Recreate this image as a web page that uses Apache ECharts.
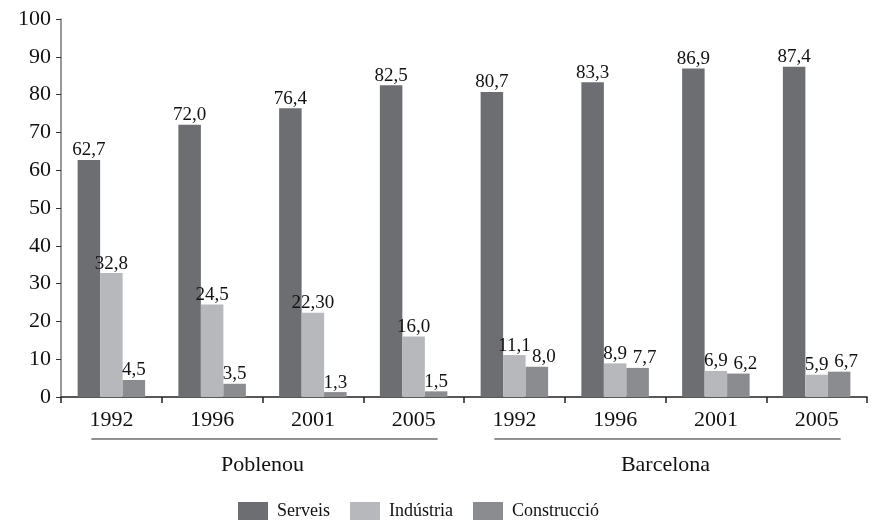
<!DOCTYPE html>
<html><head><meta charset="utf-8">
<script src="https://cdn.jsdelivr.net/npm/echarts@6/dist/echarts.min.js"></script>
<style>html,body{margin:0;padding:0;background:#fff}#c{width:871px;height:522px}</style>
</head><body><div id="c"></div>
<script>
const years = ['1992','1996','2001','2005','1992','1996','2001','2005'];
const groups = ['Poblenou','Barcelona'];
const seriesNames = ['Serveis','Indústria','Construcció'];
const serveis = [62.7,72.0,76.4,82.5,80.7,83.3,86.9,87.4];
const industria = [32.8,24.5,22.3,16.0,11.1,8.9,6.9,5.9];
const construccio = [4.5,3.5,1.3,1.5,8.0,7.7,6.2,6.7];
const serveisLbl = ['62,7','72,0','76,4','82,5','80,7','83,3','86,9','87,4'];
const industriaLbl = ['32,8','24,5','22,30','16,0','11,1','8,9','6,9','5,9'];
const construccioLbl = ['4,5','3,5','1,3','1,5','8,0','7,7','6,2','6,7'];
const yTicks = [0,10,20,30,40,50,60,70,80,90,100];

const FONT = '"Liberation Serif","DejaVu Serif",serif';
const colors = ['#6d6e72','#b7b8bb','#8b8c90'];
const chart = echarts.init(document.getElementById('c'));
function mk(name, vals, lbls, color, shiftBarcelona){
  return {
    name, type:'bar', barWidth: 22.5, barGap: '0%',
    data: vals.map((v,i)=> (shiftBarcelona && i>=4) ? {value:v, label:{offset:[7,0]}} : v),
    itemStyle:{color},
    label:{show:true, position:'top', distance:0, color:'#111', fontFamily:FONT, fontSize:19,
      formatter: p => lbls[p.dataIndex]}
  };
}
chart.setOption({
  animation:false,
  color: colors,
  grid:{left:61, right:4, top:19, bottom:125},
  legend:{bottom:2, left:238, padding:0, itemWidth:30, itemHeight:18, itemGap:20,
    icon:'rect', textStyle:{fontFamily:FONT, fontSize:18, color:'#111', padding:[0,0,0,4]}, data: seriesNames},
  xAxis:{type:'category', data: years,
    axisLine:{lineStyle:{color:'#222', width:1.5}},
    axisTick:{show:true, length:6, lineStyle:{color:'#222', width:1.5}},
    axisLabel:{fontFamily:FONT, fontSize:22, color:'#111', margin:12}},
  yAxis:{type:'value', min:0, max:100, interval:10,
    axisLine:{show:true, lineStyle:{color:'#777', width:1.5}},
    axisTick:{show:true, length:5, lineStyle:{color:'#333'}},
    splitLine:{show:false},
    axisLabel:{fontFamily:FONT, fontSize:22, color:'#111', margin:10}},
  series:[mk(seriesNames[0],serveis,serveisLbl,colors[0],false),
          mk(seriesNames[1],industria,industriaLbl,colors[1],false),
          mk(seriesNames[2],construccio,construccioLbl,colors[2],true)]
});
function drawGroups(){
  const els = [];
  groups.forEach((g,i)=>{
    const a = chart.convertToPixel({xAxisIndex:0}, i*4);
    const b = chart.convertToPixel({xAxisIndex:0}, i*4+3);
    const y0 = chart.convertToPixel({yAxisIndex:0}, 0);
    els.push({type:'line', shape:{x1:a-20, y1:y0+42, x2:b+24, y2:y0+42}, style:{stroke:'#222', lineWidth:1.2}});
    els.push({type:'text', x:(a+b)/2, y:y0+68, style:{text:g, fill:'#111', font:'22px '+FONT, align:'center', verticalAlign:'middle'}});
  });
  chart.setOption({graphic: els});
}
drawGroups();
</script></body></html>
